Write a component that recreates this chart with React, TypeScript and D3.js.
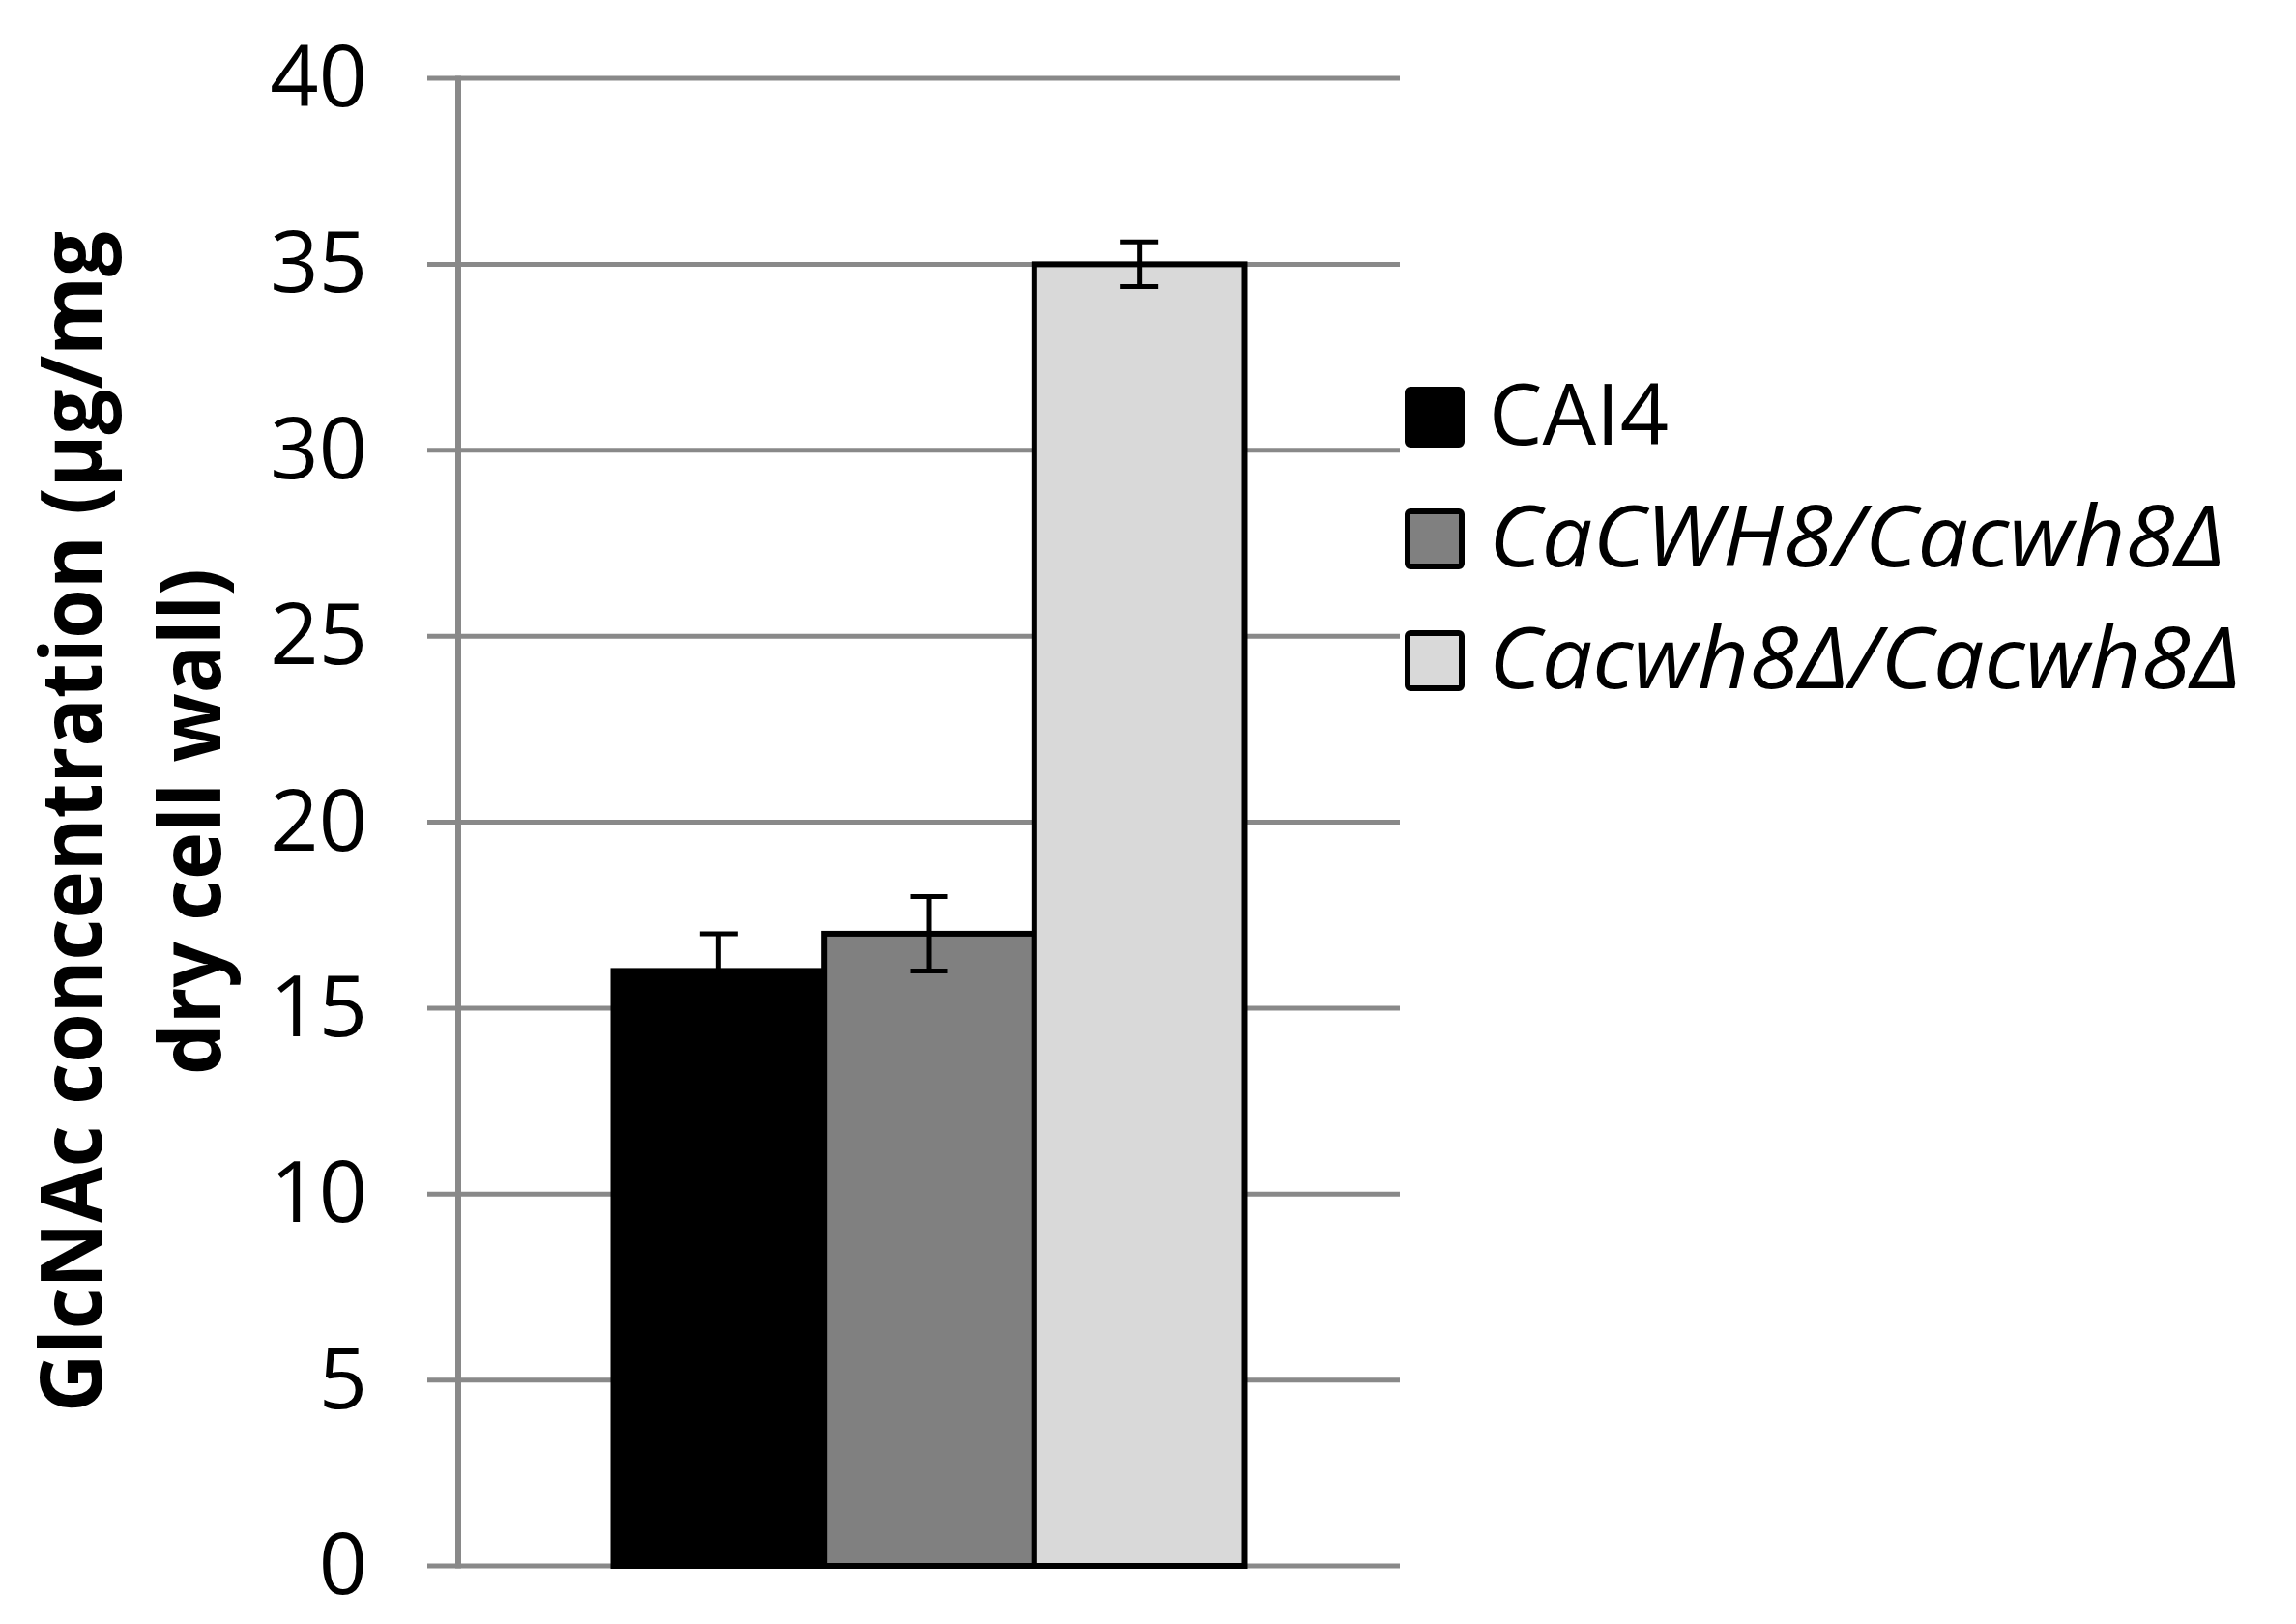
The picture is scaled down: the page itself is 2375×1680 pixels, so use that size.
import * as d3 from "d3";

const GROUP = ["GlcNAc"];
const STRAINS = ["CAI4", "CaCWH8/Cacwh8Δ", "Cacwh8Δ/Cacwh8Δ"];
const VALUES = [16, 17, 35];
const ERRORS = [1, 1, 0.6];
const FILLS = ["#000000", "#808080", "#d9d9d9"];
const ITALIC = [false, true, true];
const LEGEND_LEN = [0, 762, 778];
const Y_TICKS = [0, 5, 10, 15, 20, 25, 30, 35, 40];
const TITLE_LINES = ["GlcNAc concentration (µg/mg", "dry cell wall)"];
const TITLE_LEN = [1222, 524];

const W = 2375, H = 1680;
const FONT = "'Open Sans', 'Noto Sans', sans-serif";
const GRID = "#898989";

export default function App() {
  const plot = { l: 474, r: 1448, t: 81, b: 1620 };
  const y = d3.scaleLinear().domain([0, 40]).range([plot.b, plot.t]);
  const x0 = d3.scaleBand().domain(GROUP).range([plot.l, plot.r]).paddingOuter(0.2458).paddingInner(0);
  const x1 = d3.scaleBand().domain(STRAINS).range([0, x0.bandwidth()]).padding(0);
  const gx = x0(GROUP[0])!;
  const capW = 39;

  return (
    <svg width={W} height={H} style={{ position: "absolute", left: 0, top: 0, background: "#fff" }} fontFamily={FONT}>
      {/* grid + ticks */}
      {Y_TICKS.map(t => (
        <g key={t}>
          <line x1={442} x2={plot.r} y1={y(t)} y2={y(t)} stroke={GRID} strokeWidth={5} />
          <text x={380} y={y(t) + 29} textAnchor="end" fontSize={88} fill="#000">{t}</text>
        </g>
      ))}
      <line x1={plot.l} x2={plot.l} y1={plot.t - 2.5} y2={plot.b + 2.5} stroke={GRID} strokeWidth={6} />

      {/* bars */}
      {STRAINS.map((s, i) => {
        const bx = gx + x1(s)!;
        return (
          <rect key={s} x={bx} y={y(VALUES[i])} width={x1.bandwidth()} height={y(0) - y(VALUES[i])}
            fill={FILLS[i]} stroke="#000" strokeWidth={6} />
        );
      })}

      {/* error bars */}
      {STRAINS.map((s, i) => {
        const cx = gx + x1(s)! + x1.bandwidth() / 2;
        const hi = y(VALUES[i] + ERRORS[i]), lo = y(VALUES[i] - ERRORS[i]);
        return (
          <g key={s} stroke="#000" strokeWidth={5}>
            <line x1={cx} x2={cx} y1={hi} y2={lo} />
            <line x1={cx - capW / 2} x2={cx + capW / 2} y1={hi} y2={hi} />
            <line x1={cx - capW / 2} x2={cx + capW / 2} y1={lo} y2={lo} />
          </g>
        );
      })}

      {/* y title */}
      <g transform="rotate(-90)" fontWeight="bold" fontSize={88} textAnchor="middle">
        {TITLE_LINES.map((ln, i) => (
          <text key={ln} x={-850} y={105 + i * 123} textLength={TITLE_LEN[i]} lengthAdjust="spacingAndGlyphs">{ln}</text>
        ))}
      </g>

      {/* legend */}
      {STRAINS.map((s, i) => {
        const cy = 431.5 + i * 126;
        return (
          <g key={s}>
            <rect x={1456} y={cy - 28.5} width={56} height={57} rx={3} fill={FILLS[i]} stroke="#000" strokeWidth={6} />
            <text x={1540} y={cy + 28.5} fontSize={88} fontStyle={ITALIC[i] ? "italic" : "normal"}
              {...(LEGEND_LEN[i] ? { textLength: LEGEND_LEN[i], lengthAdjust: "spacingAndGlyphs" } : {})}>{s}</text>
          </g>
        );
      })}
    </svg>
  );
}
